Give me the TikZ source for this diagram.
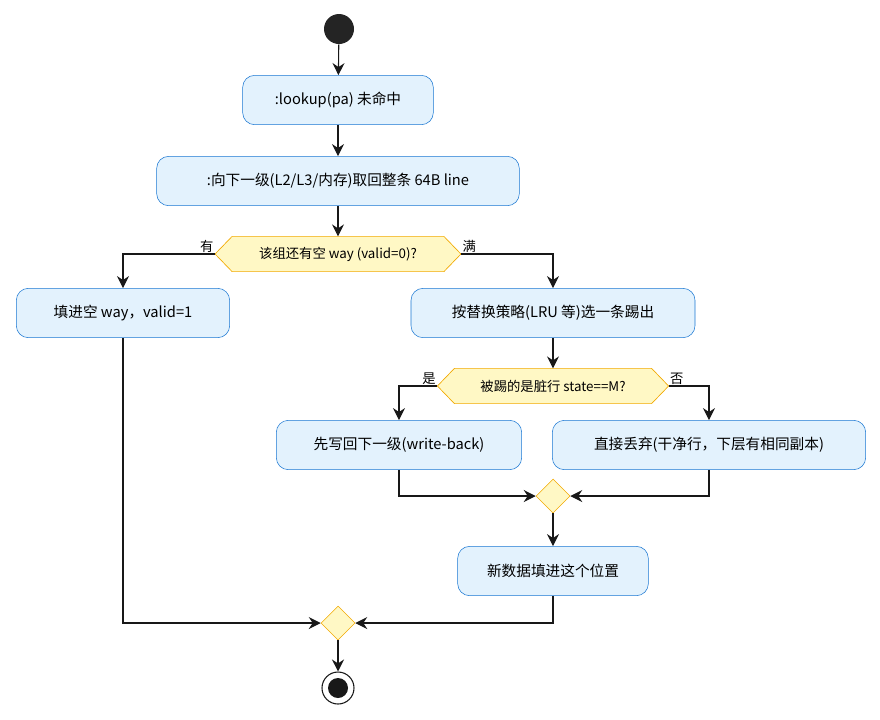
\documentclass[tikz,border=0pt]{standalone}
\usepackage{fontspec}
\setmainfont{Noto Sans CJK SC}
\usetikzlibrary{shapes.geometric,arrows.meta}
\definecolor{actfill}{HTML}{E3F2FD}
\definecolor{actline}{HTML}{1976D2}
\definecolor{decfill}{HTML}{FFF8C5}
\definecolor{decline}{HTML}{F2A900}
\definecolor{flow}{HTML}{181818}
\tikzset{
  act/.style={draw=actline,fill=actfill,rounded corners=9pt,minimum height=37pt,minimum width=#1,font=\fontsize{11}{13}\selectfont,inner sep=2pt},
  dec/.style={minimum height=26pt,minimum width=#1,font=\fontsize{10}{12}\selectfont,inner sep=1pt},
  hexa/.style={draw=decline,fill=decfill,line width=0.5pt},
  merge/.style={diamond,draw=decline,fill=decfill,minimum size=25.5pt,inner sep=0pt},
  flowline/.style={draw=flow,line width=0.8pt,-{Stealth[length=9pt,width=9pt,inset=3pt]}},
  tag/.style={font=\fontsize{10}{12}\selectfont,inner sep=1pt}
}
\newcommand{\hexagon}[1]{%
  \path[hexa] (#1.west) -- ([xshift=12.75pt]#1.north west) -- ([xshift=-12.75pt]#1.north east)
    -- (#1.east) -- ([xshift=-12.75pt]#1.south east) -- ([xshift=12.75pt]#1.south west) -- cycle;}
\begin{document}
\begin{tikzpicture}[x=0.75pt,y=-0.75pt]
  \useasboundingbox (0,0) rectangle (880,719);
  % start
  \node[circle,fill=flow!95,minimum size=22.5pt,inner sep=0pt] (start) at (339,29) {};
  \node[act=143pt] (lookup) at (338,100) {:lookup(pa) 未命中};
  \node[act=272pt] (fetch) at (338,181) {:向下一级(L2/L3/内存)取回整条 64B line};
  % first decision
  \node[dec=184pt] (hasway) at (338,254) {};
  \hexagon{hasway}
  \node[dec=184pt] at (hasway) {该组还有空 way (valid=0)?};
  \node[act=160pt] (fillway) at (123,313) {填进空 way，valid=1};
  \node[act=213pt] (evict) at (553,313) {按替换策略(LRU 等)选一条踢出};
  % second decision
  \node[dec=173pt] (dirty) at (553,386) {};
  \hexagon{dirty}
  \node[dec=173pt] at (dirty) {被踢的是脏行 state==M?};
  \node[act=184pt] (wb) at (399,445) {先写回下一级(write-back)};
  \node[act=235pt] (drop) at (709,445) {直接丢弃(干净行，下层有相同副本)};
  \node[merge] (join1) at (553,496) {};
  \node[act=143pt] (place) at (553,571) {新数据填进这个位置};
  \node[merge] (join2) at (338,623) {};
  % stop
  \node[circle,draw=flow,line width=0.8pt,minimum size=24pt,inner sep=0pt] (stop) at (338,688) {};
  \node[circle,fill=flow,minimum size=15pt,inner sep=0pt] at (stop) {};

  \draw[flowline] (start) -- (lookup);
  \draw[flowline] (lookup) -- (fetch);
  \draw[flowline] (fetch) -- (hasway);
  \draw[flowline] (hasway.west) -| (fillway.north);
  \draw[flowline] (hasway.east) -| (evict.north);
  \node[tag,anchor=south east] at (hasway.west) {有};
  \node[tag,anchor=south west] at (hasway.east) {满};
  \draw[flowline] (evict) -- (dirty);
  \draw[flowline] (dirty.west) -| (wb.north);
  \draw[flowline] (dirty.east) -| (drop.north);
  \node[tag,anchor=south east] at (dirty.west) {是};
  \node[tag,anchor=south west] at (dirty.east) {否};
  \draw[flowline] (wb.south) |- (join1.west);
  \draw[flowline] (drop.south) |- (join1.east);
  \draw[flowline] (join1) -- (place);
  \draw[flowline] (fillway.south) |- (join2.west);
  \draw[flowline] (place.south) |- (join2.east);
  \draw[flowline] (join2) -- (stop);
\end{tikzpicture}
\end{document}
